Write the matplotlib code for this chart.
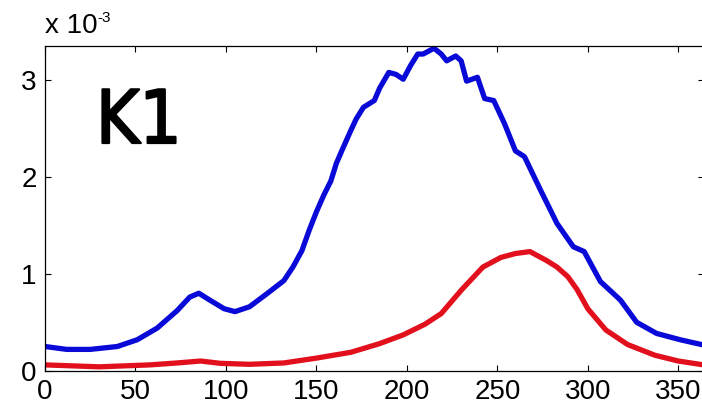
import matplotlib
matplotlib.use("Agg")
import matplotlib.pyplot as plt
import matplotlib.patheffects as pe
from matplotlib.ticker import FixedLocator, FuncFormatter

# Blue curve (values in units of 1e-3)
blue_x = [0, 12, 25, 40, 51, 62, 73, 80, 85, 91, 99, 105, 113, 123, 132, 137,
          142, 146, 150, 154, 158, 161, 164, 169, 172, 176, 182, 185, 190, 194,
          198, 202, 206, 209, 215, 219, 222, 227, 230, 233, 239, 243, 248, 254,
          260, 265, 274, 283, 292, 298, 307, 318, 327, 338, 351, 364]
blue_v = [0.25, 0.22, 0.22, 0.25, 0.32, 0.44, 0.62, 0.76, 0.80, 0.73, 0.64,
          0.61, 0.66, 0.80, 0.93, 1.07, 1.24, 1.45, 1.64, 1.81, 1.96, 2.14,
          2.27, 2.48, 2.60, 2.72, 2.79, 2.92, 3.08, 3.06, 3.01, 3.15, 3.27,
          3.27, 3.33, 3.27, 3.20, 3.25, 3.20, 2.99, 3.03, 2.81, 2.79, 2.55,
          2.27, 2.21, 1.86, 1.52, 1.28, 1.23, 0.92, 0.73, 0.50, 0.385, 0.32,
          0.265]

# Red curve (values in units of 1e-3)
red_x = [0, 30, 58, 73, 86, 97, 113, 132, 150, 169, 185, 198, 210, 219, 230,
         242, 252, 260, 268, 277, 283, 289, 294, 300, 310, 322, 337, 350, 364]
red_v = [0.06, 0.04, 0.06, 0.08, 0.10, 0.076, 0.066, 0.08, 0.13, 0.19, 0.28,
         0.37, 0.48, 0.59, 0.83, 1.07, 1.17, 1.21, 1.23, 1.14, 1.07, 0.97,
         0.84, 0.64, 0.42, 0.27, 0.16, 0.10, 0.06]

scale = 1e-3
x_ticks = [0, 50, 100, 150, 200, 250, 300, 350]
y_ticks = [0, 1, 2, 3]

plt.rcParams['font.family'] = ['Liberation Sans', 'DejaVu Sans']

W, H = 702, 407
fig = plt.figure(figsize=(W / 100, H / 100), dpi=100)
fig.patch.set_facecolor('white')

left, right, top, bottom = 45, 703.6, 46.3, 370.7
ax = fig.add_axes([left / W, (H - bottom) / H, (right - left) / W, (bottom - top) / H])

ax.plot(blue_x, [v * scale for v in blue_v], color='#0a0ad8', lw=3.8,
        solid_joinstyle='round', solid_capstyle='round')
ax.plot(red_x, [v * scale for v in red_v], color='#e2101c', lw=3.8,
        solid_joinstyle='round', solid_capstyle='round')

ax.set_xlim(0, 364)
ax.set_ylim(0, 3.35 * scale)
ax.xaxis.set_major_locator(FixedLocator(x_ticks))
ax.yaxis.set_major_locator(FixedLocator([t * scale for t in y_ticks]))
ax.yaxis.set_major_formatter(FuncFormatter(lambda v, p: f"{round(v / scale):d}"))

ax.tick_params(direction='in', length=4, width=0.8, top=True, right=True,
               labelsize=20, pad=6, colors='black')
for s in ax.spines.values():
    s.set_linewidth(0.9)
    s.set_color('black')

# Exponent label above the y axis
fig.text(45 / W, (H - 33) / H, 'x 10', fontsize=20, ha='left', va='baseline')
fig.text(97 / W, (H - 21.5) / H, '-3', fontsize=11, ha='left', va='baseline')

# Panel label
fig.text(96 / W, (H - 143) / H, 'K1', fontsize=53, ha='left', va='baseline',
         family=['DejaVu Sans'], fontstretch='condensed',
         path_effects=[pe.withStroke(linewidth=1.6, foreground='black',
                                     capstyle='round', joinstyle='round')])

fig.savefig('out.png', dpi=100, facecolor='white')
